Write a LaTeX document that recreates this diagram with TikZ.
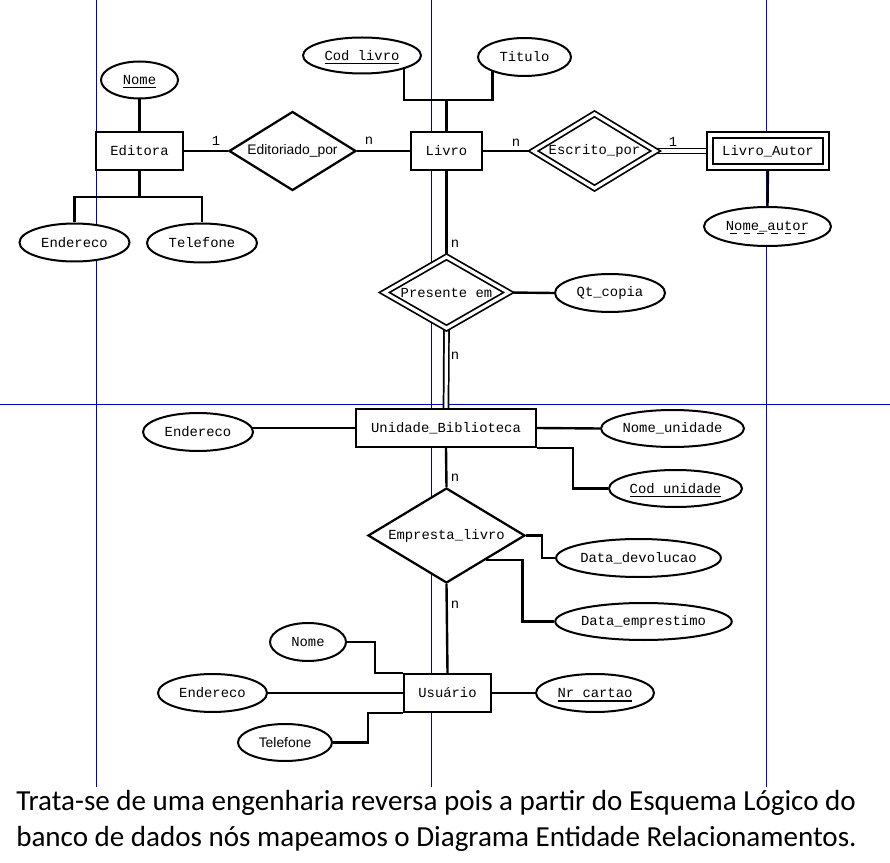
\documentclass[tikz,border=0pt]{standalone}
\usepackage{fontspec}
\usetikzlibrary{shapes.geometric}
\newfontfamily\monof{Liberation Mono}
\newfontfamily\sansf{Liberation Sans}
\newfontfamily\calib{Carlito}
\definecolor{gridblue}{RGB}{0,0,190}
\def\pxu{0.75pt}
\newcommand\mfont{\monof\fontsize{10.4}{12}\selectfont}
\newcommand\sfont{\sansf\fontsize{10.4}{12}\selectfont}
\newcommand\keyul[1]{\setbox0\hbox{#1}\leavevmode\rlap{\usebox0}\smash{\rule[-3pt]{\wd0}{1.4pt}}}
\newcommand\dashul[1]{\setbox0\hbox{#1}\leavevmode\rlap{\usebox0}\smash{\hbox to\wd0{\xleaders\hbox to 9pt{\hss\rule[-3pt]{5pt}{1.3pt}\hss}\hfil}}}
\pgfdeclarelayer{bluelayer}
\pgfdeclarelayer{bglayer}
\pgfsetlayers{bluelayer,bglayer,main}
\tikzset{
 ent/.style 2 args={draw, rectangle, line width=1.7pt, fill=white, minimum width=#1*\pxu, minimum height=#2*\pxu, inner sep=0pt, font=\mfont},
 weakent/.style 2 args={ent={#1}{#2}, double, double distance=3pt, line width=1.5pt},
 attr/.style 2 args={draw, ellipse, line width=1.5pt, fill=white, minimum width=#1*\pxu, minimum height=#2*\pxu, inner sep=0pt, font=\mfont},
 rel/.style 2 args={draw, diamond, /utils/exec={\pgfmathsetmacro\myasp{#1/#2}}, aspect=\myasp, line width=1.7pt, fill=white, minimum width=#1*\pxu, minimum height=#2*\pxu, inner sep=0pt, font=\mfont},
 weakrel/.style 2 args={rel={#1}{#2}, double, double distance=2.4pt, line width=1.3pt},
 card/.style={inner sep=0pt, font=\mfont},
 conn/.style={line width=1.8pt},
 dconn/.style={line width=1.3pt, double, double distance=2.4pt},
 blueline/.style={line width=0.75pt, color=gridblue},
 note/.style={anchor=base west, inner sep=0pt, font=\calib\fontsize{21.8}{26}\selectfont},
}
\begin{document}
\begin{tikzpicture}[x=0.75pt, y=-0.75pt]
\useasboundingbox (0,0) rectangle (890,863);
\begin{pgfonlayer}{bluelayer}
\fill[white] (0,0) rectangle (890,863);
\draw[blueline] (96.5,0) -- (96.5,787);
\draw[blueline] (431.5,0) -- (431.5,787);
\draw[blueline] (766.5,0) -- (766.5,787);
\draw[blueline] (0,404.5) -- (890,404.5);
\end{pgfonlayer}

% Editora
\node[ent={87}{38}] (editora) at (139.5,151) {Editora};
\node[attr={77}{37}] (nome1) at (139.5,80) {\keyul{Nome}};
\node[attr={110}{38}] (end1) at (74.5,242.5) {Endereco};
\node[attr={110}{39}] (tel1) at (202,243) {Telefone};
\node[rel={127}{79}, font=\sfont] (editp) at (292.5,151) {Editoriado\_por};
\coordinate (b1) at (139.5,197);

% Livro
\node[ent={71}{38}] (livro) at (446.5,151) {Livro};
\node[attr={118}{36}] (cod) at (362,55.5) {\keyul{Cod livro}};
\node[attr={93}{38}] (titulo) at (524.5,57) {Titulo};
\coordinate (b2) at (446.5,100);
\node[weakrel={123}{75}] (escr) at (594.5,151) {Escrito\_por};
\node[weakent={116}{32}] (la) at (768,151) {Livro\_Autor};
\node[attr={127}{39}] (na) at (767.5,226.5) {\dashul{Nome\_autor}};

% Presente em
\node[weakrel={125}{72}] (pres) at (446.5,292.5) {Presente em};
\node[attr={110}{38}] (qt) at (610,293) {Qt\_copia};

% Unidade
\node[ent={180}{38}] (unid) at (446,428) {Unidade\_Biblioteca};
\node[attr={110}{38}] (end2) at (198,432) {Endereco};
\node[attr={143}{37}] (nu) at (672.5,428.5) {Nome\_unidade};
\node[attr={133}{37}] (cu) at (675.5,488.5) {\keyul{Cod unidade}};

% Empresta
\node[rel={157}{95}] (emp) at (446.5,535.5) {Empresta\_livro};
\node[attr={159}{38}] (dd) at (638.5,558) {Data\_devolucao};
\node[attr={169}{37}] (de) at (643.5,621.5) {Data\_emprestimo};

% Usuario
\node[ent={87}{38}] (usu) at (447.5,693) {Usuário};
\node[attr={76}{38}] (nm) at (308,642) {Nome};
\node[attr={109}{38}] (end3) at (212.5,693) {Endereco};
\node[attr={94}{37}, font=\sfont] (tel2) at (285,742.5) {Telefone};
\node[attr={118}{38}] (nr) at (595,693) {\keyul{Nr cartao}};

% cardinalities
\node[card] (c1) at (216,141) {1};
\node[card] (c2) at (369,141) {n};
\node[card] (c3) at (516,143) {n};
\node[card] (c4) at (673,142) {1};
\node[card] (c5) at (455,244) {n};
\node[card] (c6) at (455,356) {n};
\node[card] (c7) at (455,478) {n};
\node[card] (c8) at (455,605) {n};

% note
\node[note] (t1) at (16,810) {Trata-se de uma engenharia reversa pois a partir do Esquema Lógico do};
\node[note] (t2) at (16,846) {banco de dados nós mapeamos o Diagrama Entidade Relacionamentos.};

\begin{pgfonlayer}{bglayer}
\draw[conn] (nome1) -- (editora);
\draw[conn] (editora.south) -- (b1);
\draw[conn] (end1.north) |- (b1) -| (tel1.north);
\draw[conn] (editora.east) -- (editp.west);
\draw[conn] (editp.east) -- (livro.west);
\draw[conn] (livro.north) -- (b2);
\draw[conn] ([xshift=42*\pxu]cod.center) |- (b2);
\draw[conn] ([xshift=-32*\pxu]titulo.center) |- (b2);
\draw[conn] (livro.east) -- (escr.west);
\draw[dconn] (escr.east) -- (la.west);
\draw[conn] (la.south) -- (na.north);
\draw[conn] (livro.south) -- (pres.north);
\draw[conn] (pres.east) -- (qt.west);
\draw[dconn] (pres.south) -- (unid.north);
\draw[conn] (unid.west) -- (unid.west -| end2.center);
\draw[conn] (unid.east) -- (nu.west);
\draw[conn] (unid.south east) -- ++(36,0) |- (cu.west);
\draw[conn] (unid.south) -- (emp.north);
\draw[conn] (emp.east) -- ++(16,0) |- (dd.west);
\draw[conn] (emp.south east) -- ++(36,0) |- (de.west);
\draw[conn] (emp.south) -- (usu.north);
\draw[conn] (nm.east) -- ++(28,0) |- (usu.north west);
\draw[conn] (end3.east) -- (usu.west);
\draw[conn] (usu.south west) -- ++(-35,0) |- (tel2.east);
\draw[conn] (usu.east) -- (nr.west);
\end{pgfonlayer}
\end{tikzpicture}
\end{document}
